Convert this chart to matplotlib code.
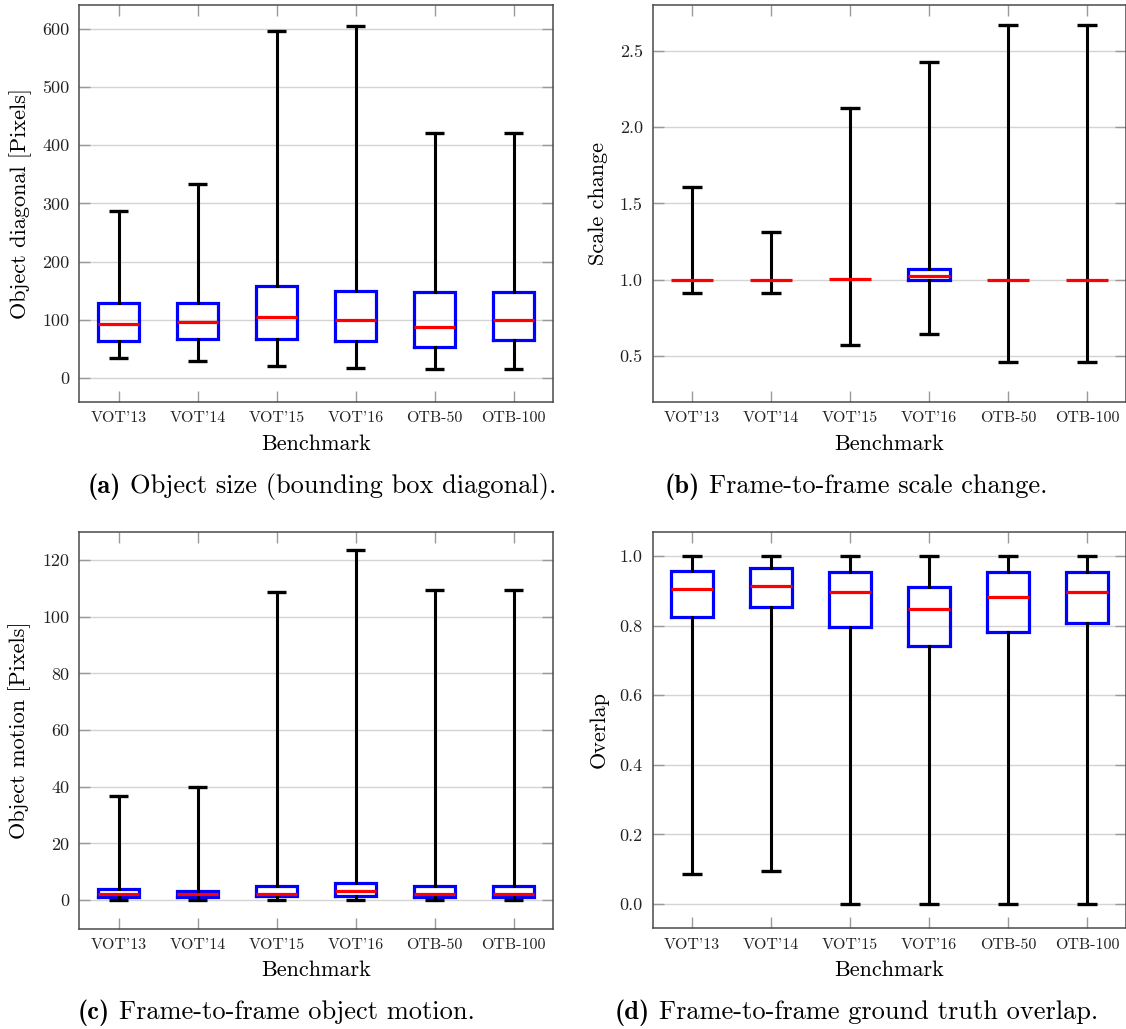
import matplotlib
matplotlib.use("Agg")
import matplotlib.pyplot as plt
import numpy as np

# Benchmarks shown on every panel
benchmarks = ["VOT'13", "VOT'14", "VOT'15", "VOT'16", "OTB-50", "OTB-100"]

# (a) object size: bounding box diagonal [px]
size_lo = [34.9, 28.6, 20.0, 17.7, 14.9, 14.9]
size_q1 = [64.6, 66.9, 66.9, 64.0, 54.3, 65.1]
size_med = [93.7, 96.6, 105.7, 100.6, 87.4, 100.0]
size_q3 = [128.6, 129.7, 158.3, 149.1, 147.4, 147.4]
size_hi = [286.3, 333.1, 596.6, 604.5, 421.8, 421.8]

# (b) frame-to-frame scale change
scale_lo = [0.915, 0.917, 0.572, 0.646, 0.465, 0.465]
scale_q1 = [1.0, 1.0, 1.006, 0.998, 1.0, 1.0]
scale_med = [1.0, 1.0, 1.006, 1.028, 1.0, 1.0]
scale_q3 = [1.0, 1.0, 1.006, 1.074, 1.0, 1.0]
scale_hi = [1.609, 1.314, 2.127, 2.428, 2.668, 2.668]

# (c) frame-to-frame object motion [px]
motion_lo = [0.0, 0.0, 0.0, 0.0, 0.0, 0.0]
motion_q1 = [0.94, 1.06, 1.3, 1.5, 0.94, 1.06]
motion_med = [2.1, 2.0, 2.24, 3.2, 2.0, 2.24]
motion_q3 = [4.0, 3.3, 4.96, 6.1, 4.96, 4.96]
motion_hi = [36.7, 40.0, 108.6, 123.4, 109.6, 109.6]

# (d) frame-to-frame ground truth overlap
overlap_lo = [0.085, 0.096, 0.0, 0.0, 0.0, 0.0]
overlap_q1 = [0.825, 0.853, 0.795, 0.741, 0.783, 0.807]
overlap_med = [0.906, 0.914, 0.896, 0.847, 0.881, 0.896]
overlap_q3 = [0.958, 0.966, 0.954, 0.911, 0.953, 0.955]
overlap_hi = [1.0, 1.0, 1.0, 1.0, 1.0, 1.0]

W, H = 1126, 1029
SERIF = "cmr10"
BOLD = "cmb10"

plt.rcParams["axes.formatter.use_mathtext"] = True
fig = plt.figure(figsize=(W / 100, H / 100), dpi=100)


def px_rect(left, top, right, bottom):
    return [left / W, 1 - bottom / H, (right - left) / W, (bottom - top) / H]


def draw_panel(rect, lo, q1, med, q3, hi, ylim, yticks, ylabels, ylabel, ylabel_x):
    ax = fig.add_axes(rect)
    stats = [
        dict(whislo=a, q1=b, med=c, q3=d, whishi=e, fliers=[], label=name)
        for a, b, c, d, e, name in zip(lo, q1, med, q3, hi, benchmarks)
    ]
    parts = ax.bxp(
        stats,
        positions=np.arange(1, len(benchmarks) + 1),
        widths=0.52,
        capwidths=0.25,
        showfliers=False,
        boxprops=dict(color="#0000ff", linewidth=2.3, solid_joinstyle="miter"),
        whiskerprops=dict(color="black", linewidth=2.2),
        capprops=dict(color="black", linewidth=2.4, solid_capstyle="butt"),
        medianprops=dict(color="#ff0000", linewidth=2.3, solid_capstyle="butt"),
    )
    # a box with no spread collapses onto its median line
    for box, s in zip(parts["boxes"], stats):
        if s["q1"] == s["q3"]:
            box.set_visible(False)
    ax.set_xlim(0.5, 6.5)
    ax.set_ylim(*ylim)
    ax.set_yticks(yticks)
    ax.set_yticklabels(ylabels, fontfamily=SERIF, fontsize=13)
    ax.set_xticks(np.arange(1, len(benchmarks) + 1))
    ax.set_xticklabels(benchmarks, fontfamily=SERIF, fontsize=11.5)
    ax.yaxis.grid(True, color="#d4d4d4", linewidth=1.0)
    ax.set_axisbelow(True)
    ax.tick_params(axis="both", direction="in", length=8, width=1.0,
                   color="#9a9a9a", labelcolor="#222222",
                   top=True, right=True)
    ax.tick_params(axis="x", pad=7)
    ax.tick_params(axis="y", pad=7)
    for sp in ax.spines.values():
        sp.set_color("#4a4a4a")
        sp.set_linewidth(1.1)
    ax.set_xlabel("Benchmark", fontfamily=SERIF, fontsize=16)
    ax.xaxis.set_label_coords(0.5, -0.081)
    ax.set_ylabel(ylabel, fontfamily=SERIF, fontsize=16)
    ax.yaxis.set_label_coords(ylabel_x, 0.5)
    return ax


draw_panel(px_rect(79, 5, 553, 402), size_lo, size_q1, size_med, size_q3, size_hi,
           (-41, 641), np.arange(0, 601, 100), [str(v) for v in range(0, 601, 100)],
           "Object diagonal [Pixels]", -0.099)
draw_panel(px_rect(652.5, 5, 1126.5, 402), scale_lo, scale_q1, scale_med, scale_q3, scale_hi,
           (0.2, 2.8), [0.5, 1.0, 1.5, 2.0, 2.5], ["0.5", "1.0", "1.5", "2.0", "2.5"],
           "Scale change", -0.094)
draw_panel(px_rect(79, 531.7, 553, 928.5), motion_lo, motion_q1, motion_med, motion_q3, motion_hi,
           (-10, 130), np.arange(0, 121, 20), [str(v) for v in range(0, 121, 20)],
           "Object motion [Pixels]", -0.102)
draw_panel(px_rect(652.5, 531.7, 1126.5, 928.3), overlap_lo, overlap_q1, overlap_med, overlap_q3, overlap_hi,
           (-0.07, 1.07), [0.0, 0.2, 0.4, 0.6, 0.8, 1.0],
           ["0.0", "0.2", "0.4", "0.6", "0.8", "1.0"],
           "Overlap", -0.092)

# Sub-captions: bold tag followed by regular text
captions = [
    ("(a)", "Object size (bounding box diagonal).", 88, 493),
    ("(b)", "Frame-to-frame scale change.", 665, 493),
    ("(c)", "Frame-to-frame object motion.", 78, 1019),
    ("(d)", "Frame-to-frame ground truth overlap.", 615, 1019),
]
renderer = fig.canvas.get_renderer()
for tag, text, x, y in captions:
    t = fig.text(x / W, 1 - y / H, tag, fontfamily=BOLD, fontsize=19, va="baseline")
    bb = t.get_window_extent(renderer=renderer)
    fig.text((bb.x1 + 9) / W, 1 - y / H, text, fontfamily=SERIF, fontsize=19, va="baseline")

fig.savefig("out.png", dpi=100)
